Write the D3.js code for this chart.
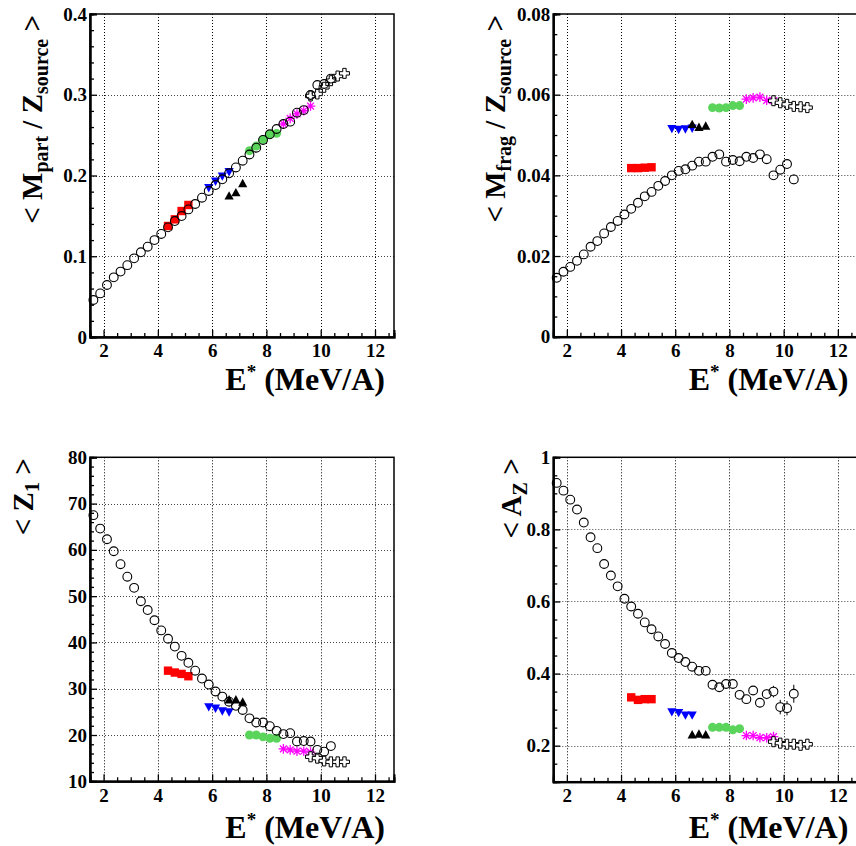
<!DOCTYPE html>
<html><head><meta charset="utf-8">
<script src="https://cdn.jsdelivr.net/npm/d3@7"></script>
<style>
html,body{margin:0;padding:0;background:#fff;}
svg{display:block;}
</style></head>
<body>
<svg id="chart" width="856" height="846"></svg>
<script>
// ---------- DATA ----------
const E_all = [1.625,1.875,2.125,2.375,2.625,2.875,3.125,3.375,3.625,3.875,4.125,4.375,4.625,4.875,5.125,5.375,5.625,5.875,6.125,6.375,6.625,6.875,7.125,7.375,7.625,7.875,8.125,8.375,8.625,8.875,9.125,9.375,9.625,9.875,10.125,10.375];
const E_red = [4.375,4.625,4.875,5.125];
const E_blue = [5.875,6.125,6.375,6.625];
const E_black = [6.625,6.875,7.125];
const E_green = [7.375,7.625,7.875,8.125,8.375];
const E_mag = [8.625,8.875,9.125,9.375,9.625];
const E_cross = [9.625,9.875,10.125,10.375,10.625,10.875];

// <M_part / Z_source>
const mpart_all = [0.0458,0.054,0.0644,0.0739,0.081,0.089,0.0974,0.1049,0.1118,0.120,0.1276,0.1358,0.1436,0.1498,0.158,0.1647,0.1725,0.1808,0.1882,0.1953,0.2027,0.210,0.2183,0.226,0.2344,0.244,0.251,0.2576,0.2638,0.2667,0.2778,0.281,0.2997,0.312,0.3133,0.320];
const mpart_err = [0,0,0,0,0,0,0,0,0,0,0,0,0,0,0,0,0,0,0,0,0,0,0,0,0,0,0,0,0,0,0,0,0.002,0.003,0.003,0.004];
const mpart_red = [0.1375,0.1457,0.156,0.1635];
const mpart_blue = [0.185,0.193,0.1994,0.2047];
const mpart_black = [0.1746,0.1787,0.190];
const mpart_green = [0.2307,0.2365,0.2448,0.251,0.2522];
const mpart_mag = [0.2638,0.2708,0.2762,0.2802,0.286];
const mpart_cross = [0.2985,0.301,0.3092,0.3174,0.3232,0.3265];

// <M_frag / Z_source>
const mfrag_all = [0.0146,0.0161,0.0173,0.0188,0.0204,0.0223,0.0237,0.0256,0.0272,0.0287,0.0303,0.0317,0.0332,0.0348,0.0359,0.0374,0.0386,0.0400,0.0411,0.0415,0.0424,0.0434,0.0434,0.0446,0.0452,0.0434,0.0438,0.0435,0.0446,0.0443,0.0452,0.0440,0.0400,0.0414,0.0428,0.0390];
const mfrag_err = [0,0,0,0,0,0,0,0,0,0,0,0,0,0,0,0,0,0,0,0,0,0,0,0,0,0,0,0,0,0,0,0,0.0007,0.0008,0.0008,0.0012];
const mfrag_red = [0.0418,0.0418,0.0419,0.0420];
const mfrag_blue = [0.0516,0.0514,0.0515,0.0517];
const mfrag_black = [0.0526,0.0519,0.0522];
const mfrag_green = [0.0568,0.0567,0.0568,0.0573,0.0573];
const mfrag_mag = [0.0589,0.0592,0.0594,0.0586,0.0585];
const mfrag_cross = [0.0585,0.0580,0.0576,0.0571,0.0570,0.0568];

// <Z_1>
const z1_all = [67.5,64.6,62.3,59.7,56.9,54.2,51.8,48.9,47.0,44.8,42.6,40.8,39.1,37.1,35.6,33.9,32.2,30.9,29.4,28.3,27.2,26.3,25.4,23.6,22.7,22.7,21.9,20.9,20.2,20.4,18.6,18.7,18.6,16.8,16.4,17.6];
const z1_err = [0,0,0,0,0,0,0,0,0,0,0,0,0,0,0,0,0,0,0,0,0,0,0,0,0,0,0,0,0,0,0,0,0,0,0,0.4];
const z1_red = [33.9,33.5,33.2,32.7];
const z1_blue = [26.1,25.8,25.2,25.0];
const z1_black = [27.6,27.6,27.1];
const z1_green = [20.0,20.0,19.6,19.3,19.3];
const z1_mag = [17.0,16.8,16.5,16.5,16.3];
const z1_cross = [15.3,15.0,14.4,14.2,14.2,14.2];

// <A_Z>
const az_all = [0.929,0.9075,0.8825,0.855,0.819,0.778,0.748,0.704,0.672,0.642,0.6075,0.586,0.566,0.542,0.523,0.503,0.482,0.457,0.443,0.432,0.419,0.4075,0.4075,0.369,0.362,0.371,0.371,0.341,0.329,0.353,0.319,0.343,0.35,0.307,0.304,0.344];
const az_err = [0,0,0,0,0,0,0,0,0,0,0,0,0,0,0,0,0,0,0,0,0,0,0,0,0,0,0,0,0,0.012,0,0.014,0.016,0.02,0.02,0.025];
const az_red = [0.334,0.327,0.329,0.329];
const az_blue = [0.294,0.292,0.285,0.285];
const az_black = [0.230,0.232,0.230];
const az_green = [0.251,0.251,0.251,0.244,0.247];
const az_mag = [0.228,0.228,0.222,0.222,0.225];
const az_cross = [0.211,0.207,0.204,0.204,0.201,0.204];

// tick labels
const xTicks = [2,4,6,8,10,12];
const xMinor = [1.5,2.5,3,3.5,4.5,5,5.5,6.5,7,7.5,8.5,9,9.5,10.5,11,11.5,12.5];
const mpartTicks = [0,0.1,0.2,0.3,0.4];
const mpartMinor = [0.02,0.04,0.06,0.08,0.12,0.14,0.16,0.18,0.22,0.24,0.26,0.28,0.32,0.34,0.36,0.38];
const mfragTicks = [0,0.02,0.04,0.06,0.08];
const mfragMinor = [0.005,0.01,0.015,0.025,0.03,0.035,0.045,0.05,0.055,0.065,0.07,0.075];
const z1Ticks = [10,20,30,40,50,60,70,80];
const z1Minor = [12,14,16,18,22,24,26,28,32,34,36,38,42,44,46,48,52,54,56,58,62,64,66,68,72,74,76,78];
const azTicks = [0.2,0.4,0.6,0.8,1];
const azMinor = [0.15,0.25,0.3,0.35,0.45,0.5,0.55,0.65,0.7,0.75,0.85,0.9,0.95];

// ---------- DRAW ----------
const FONT = "'Liberation Serif', 'Times New Roman', serif";
const svg = d3.select("#chart");

const shapes = {
  square: "M-4.2,-4.2H4.2V4.2H-4.2Z",
  triUp: "M0,-4.8L4.6,3.6L-4.6,3.6Z",
  triDown: "M0,4.8L4.6,-3.6L-4.6,-3.6Z",
  dot: d3.symbol().type(d3.symbolCircle).size(62)(),
  star: "M-4.8,0H4.8M0,-4.8V4.8M-3.4,-3.4L3.4,3.4M-3.4,3.4L3.4,-3.4",
  cross: "M-1.7,-5H1.7V-1.7H5V1.7H1.7V5H-1.7V1.7H-5V-1.7H-1.7Z"
};

const panels = [
  {xr:[90,394], yr:[337,14], yd:[0,0.4], ticks:mpartTicks, minor:mpartMinor, fmt:d=>d===0?"0":d3.format(".1f")(d),
   all:mpart_all, err:mpart_err, red:mpart_red, blue:mpart_blue, black:mpart_black, green:mpart_green, mag:mpart_mag, cross:mpart_cross,
   title:[["< M",0],["part",1],[" / Z",0],["source",1],[" >",0]], tx:42, xtY:390},
  {xr:[553.3,856.8], yr:[336.7,14], yd:[0,0.08], ticks:mfragTicks, minor:mfragMinor, fmt:d=>d===0?"0":d3.format(".2f")(d),
   all:mfrag_all, err:mfrag_err, red:mfrag_red, blue:mfrag_blue, black:mfrag_black, green:mfrag_green, mag:mfrag_mag, cross:mfrag_cross,
   title:[["< M",0],["frag",1],[" / Z",0],["source",1],[" >",0]], tx:505, xtY:390},
  {xr:[90,394], yr:[781.3,457.3], yd:[10,80], ticks:z1Ticks, minor:z1Minor, fmt:d=>String(d),
   all:z1_all, err:z1_err, red:z1_red, blue:z1_blue, black:z1_black, green:z1_green, mag:z1_mag, cross:z1_cross,
   title:[["< Z",0],["1",1],[" >",0]], tx:33, xtY:838},
  {xr:[553.3,856.8], yr:[781.7,457.3], yd:[0.1,1], ticks:azTicks, minor:azMinor, fmt:d=>d===1?"1":d3.format(".1f")(d),
   all:az_all, err:az_err, red:az_red, blue:az_blue, black:az_black, green:az_green, mag:az_mag, cross:az_cross,
   title:[["< A",0],["Z",1],[" >",0]], tx:521, xtY:838}
];

panels.forEach(p => {
  const x = d3.scaleLinear().domain([1.5,12.7]).range(p.xr);
  const y = d3.scaleLinear().domain(p.yd).range(p.yr);
  const g = svg.append("g");
  const [x0,x1] = p.xr, [y0,y1] = p.yr;

  // grid
  const grid = g.append("g").attr("stroke","#000").attr("stroke-width",1).attr("stroke-dasharray","1,2");
  grid.selectAll("line.gx").data(xTicks).join("line")
    .attr("x1",d=>Math.round(x(d))+0.5).attr("x2",d=>Math.round(x(d))+0.5).attr("y1",y1).attr("y2",y0);
  grid.selectAll("line.gy").data(p.ticks.filter(t=>t>p.yd[0]&&t<p.yd[1])).join("line")
    .attr("y1",d=>Math.round(y(d))+0.5).attr("y2",d=>Math.round(y(d))+0.5).attr("x1",x0).attr("x2",x1)
    .attr("stroke","#444");

  // frame
  g.append("rect").attr("x",x0).attr("y",y1).attr("width",x1-x0).attr("height",y0-y1)
    .attr("fill","none").attr("stroke","#000").attr("stroke-width",1.5);

  // axes
  const axL = g.append("g").attr("transform",`translate(${x0},0)`)
    .call(d3.axisLeft(y).tickValues(p.ticks).tickSize(-7).tickPadding(3).tickFormat(p.fmt));
  const axLm = g.append("g").attr("transform",`translate(${x0},0)`)
    .call(d3.axisLeft(y).tickValues(p.minor).tickSize(-4).tickFormat(""));
  const axB = g.append("g").attr("transform",`translate(0,${y0})`)
    .call(d3.axisBottom(x).tickValues(xTicks).tickSize(-7).tickPadding(7).tickFormat(d3.format("d")));
  const axBm = g.append("g").attr("transform",`translate(0,${y0})`)
    .call(d3.axisBottom(x).tickValues(xMinor).tickSize(-4).tickFormat(""));
  [axL,axLm,axB,axBm].forEach(a=>{
    a.attr("font-family",FONT).attr("font-size",19);
    a.selectAll(".domain").attr("stroke","#000").attr("stroke-width",2);
    a.selectAll(".tick line").attr("stroke","#000").attr("stroke-width",1.3);
    a.selectAll("text").style("font-family",FONT).style("font-weight","bold")
      .style("font-size","19px").attr("fill","#000");
  });

  // markers
  const ptsOf = (es,vs)=>es.map((e,i)=>[e,vs[i]]);
  const drawSet = (es,vs,shape,fill,stroke,sw)=>{
    g.append("g").selectAll("path").data(ptsOf(es,vs)).join("path")
      .attr("d",shapes[shape]).attr("transform",d=>`translate(${x(d[0])},${y(d[1])})`)
      .attr("fill",fill).attr("stroke",stroke).attr("stroke-width",sw);
  };
  drawSet(E_red,p.red,"square","#ff0000","none",0);
  drawSet(E_blue,p.blue,"triDown","#0000ff","none",0);
  drawSet(E_black,p.black,"triUp","#000000","none",0);
  drawSet(E_green,p.green,"dot","#5ad45a","none",0);
  drawSet(E_mag,p.mag,"star","none","#ff00ff",1.3);
  drawSet(E_cross,p.cross,"cross","#ffffff","#000",1);

  // error bars of open circles
  const R = 4.4;
  const ept = E_all.map((e,i)=>({e, v:p.all[i], s:p.err[i]})).filter(d=>d.s>0);
  const eg = g.append("g").attr("stroke","#000").attr("stroke-width",1);
  ept.forEach(d=>{
    const cx = x(d.e), cy = y(d.v), yt = y(d.v+d.s), yb = y(d.v-d.s);
    if (cy-yt>R) eg.append("line").attr("x1",cx).attr("x2",cx).attr("y1",yt).attr("y2",cy-R);
    if (yb-cy>R) eg.append("line").attr("x1",cx).attr("x2",cx).attr("y1",cy+R).attr("y2",yb);
  });
  // open circles
  g.append("g").selectAll("circle").data(ptsOf(E_all,p.all)).join("circle")
    .attr("cx",d=>x(d[0])).attr("cy",d=>y(d[1])).attr("r",R)
    .attr("fill","none").attr("stroke","#000").attr("stroke-width",1.1);

  // y title
  const yt = svg.append("text").attr("transform",`translate(${p.tx},${y1+1}) rotate(-90)`)
    .attr("text-anchor","end").style("font-family",FONT).style("font-weight","bold").style("font-size","29px");
  let prevSub = 0;
  p.title.forEach(([s,sub])=>{
    const dy = sub ? 6 : (prevSub ? -6 : 0);
    yt.append("tspan").attr("dy",dy).style("font-size", sub ? "20px" : "29px").text(s);
    prevSub = sub;
  });

  // x title
  const xt = svg.append("text").attr("x",x0+295).attr("y",p.xtY).attr("text-anchor","end")
    .style("font-family",FONT).style("font-weight","bold").style("font-size","32px");
  xt.append("tspan").text("E");
  xt.append("tspan").style("font-size","19px").attr("dy",-12).text("*");
  xt.append("tspan").attr("dy",12).text(" (MeV/A)");
});
</script>
</body></html>
